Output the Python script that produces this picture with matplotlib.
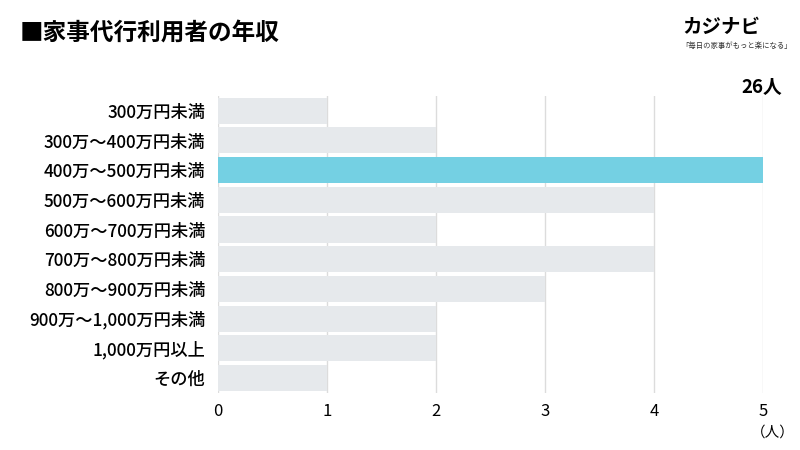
import matplotlib
matplotlib.use("Agg")
from matplotlib import pyplot as plt

# data
categories = ["300万円未満", "300万〜400万円未満", "400万〜500万円未満",
              "500万〜600万円未満", "600万〜700万円未満", "700万〜800万円未満",
              "800万〜900万円未満", "900万〜1,000万円未満", "1,000万円以上", "その他"]
counts = [1, 2, 5, 4, 2, 4, 3, 2, 2, 1]
highlight = "400万〜500万円未満"
total_label = "26人"

plt.rcParams['font.family'] = ['Noto Sans CJK JP', 'DejaVu Sans']

fig = plt.figure(figsize=(8, 4.5), dpi=100)
ax = fig.add_axes([0.2725, 0.127, 0.6815, 0.66])

colors = ["#74d0e3" if c == highlight else "#e6e9ec" for c in categories]
ypos = list(range(len(categories)))
ax.barh(ypos, counts, height=0.88, color=colors, zorder=2)

ax.set_xlim(0, 5)
ax.set_ylim(len(categories) - 0.5, -0.5)
ax.set_xticks(range(0, 6))
ax.set_yticks(ypos)
ax.set_yticklabels(categories, fontsize=12.4, fontweight="medium")
for lbl in ax.get_xticklabels():
    lbl.set_fontsize(12)
ax.tick_params(length=0)
ax.tick_params(axis="x", pad=7)
ax.tick_params(axis="y", pad=9)
ax.grid(axis="x", color="#dcdcdc", linewidth=1, zorder=1)
ax.grid(axis="y", visible=False)
for s in ax.spines.values():
    s.set_visible(False)

fig.text(0.025, 0.928, "■家事代行利用者の年収", fontsize=17, fontweight="bold",
         va="center", ha="left")
fig.text(0.853, 0.94, "カジナビ", fontsize=14, fontweight="bold", style="italic",
         va="center", ha="left")
fig.text(0.851, 0.897, "「毎日の家事がもっと楽になる」", fontsize=5.3,
         va="center", ha="left", color="#333333")
fig.text(0.978, 0.805, total_label, fontsize=13.5, fontweight="bold",
         va="center", ha="right")
fig.text(0.993, 0.038, "（人）", fontsize=10.5, va="center", ha="right")

fig.savefig("out.png", dpi=100, facecolor="white")
